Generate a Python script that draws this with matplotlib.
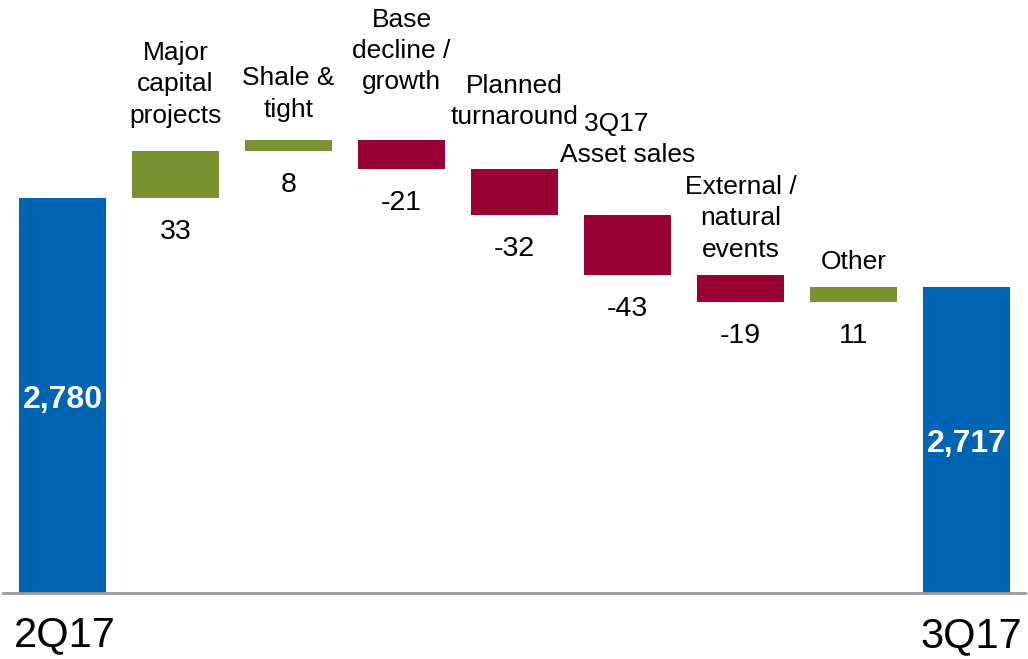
import matplotlib.pyplot as plt
import matplotlib.transforms as mtransforms
import numpy as np

plt.rcParams['font.family'] = ['Liberation Sans', 'DejaVu Sans']

start_label = "2Q17"
end_label = "3Q17"
start_value = 2780
end_value = 2717

categories = ["Major\ncapital\nprojects", "Shale &\ntight", "Base\ndecline /\ngrowth",
              "Planned\nturnaround", "3Q17   \nAsset sales", "External /\nnatural\nevents", "Other"]
changes = [33, 8, -21, -32, -43, -19, 11]

# how far (in points) each category label's center sits above its bar
label_lift = [48, 33, 64, 49, 54, 41, 18]

blue = "#0066B3"
green = "#789232"
red = "#990033"

fig = plt.figure(figsize=(10.28, 6.59), dpi=100)
ax = fig.add_axes([3 / 1028, 66 / 659, 1022 / 1028, 593 / 659])

n = len(changes)
x = np.arange(n + 2)
width = 0.77

# opening and closing totals
ax.bar([x[0], x[-1]], [start_value, end_value], width=width, color=blue, zorder=2)

level = start_value
for i, d in enumerate(changes):
    lo = min(level, level + d)
    hi = max(level, level + d)
    ax.bar(x[i + 1], hi - lo, bottom=lo, width=width,
           color=green if d > 0 else red, zorder=2)
    ax.annotate(str(d), (x[i + 1], lo), xytext=(0, -24.5), textcoords="offset points",
                ha="center", va="center", fontsize=20.5)
    ax.annotate(categories[i], (x[i + 1], hi), xytext=(0, label_lift[i]),
                textcoords="offset points", ha="center", va="center",
                fontsize=19, linespacing=1.38)
    level += d

ymin = 2500
for xi, v in [(x[0], start_value), (x[-1], end_value)]:
    ax.annotate(f"{v:,}", (xi, (ymin + v) / 2), xytext=(0, -3), textcoords="offset points",
                ha="center", va="center", color="white", fontsize=23, fontweight="bold")

ax.set_xlim(-0.527, 8.518)
ax.set_ylim(ymin, 2920)
ax.axhline(ymin, color="#9a9a9a", lw=2, zorder=3, clip_on=False)

ax.set_xticks([x[0], x[-1]])
ax.set_xticklabels([start_label, end_label], fontsize=30)
ax.tick_params(axis="x", length=0, pad=16)
ax.set_yticks([])
for s in ax.spines.values():
    s.set_visible(False)

# quarter labels nudged right of their bar centres
lbls = ax.get_xticklabels()
lbls[0].set_transform(lbls[0].get_transform() +
                      mtransforms.ScaledTranslation(2 / 100, 0, fig.dpi_scale_trans))
lbls[1].set_transform(lbls[1].get_transform() +
                      mtransforms.ScaledTranslation(5 / 100, -1 / 100, fig.dpi_scale_trans))

fig.savefig("out.png", dpi=100)
